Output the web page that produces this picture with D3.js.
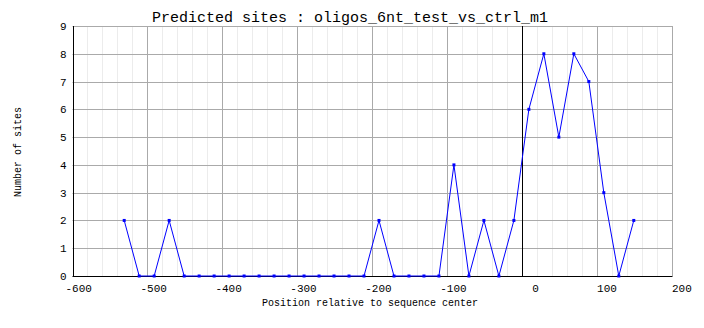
<!DOCTYPE html>
<meta charset="utf-8">
<script src="https://d3js.org/d3.v7.min.js"></script>
<style>
  body { margin: 0; background: #fff; }
  text { font-family: "Liberation Mono", "DejaVu Sans Mono", monospace; fill: #000; }
</style>
<div class="chart"></div>
<script>
  // positions (bp relative to sequence center) and site counts
  const positions = [-531, -511, -491, -471, -451, -431, -411, -391, -371, -351,
                     -331, -311, -291, -271, -251, -231, -211, -191, -171, -151,
                     -131, -111, -91, -71, -51, -31, -11, 9, 29, 49,
                     69, 89, 109, 129, 149];
  const sites = [2, 0, 0, 2, 0, 0, 0, 0, 0, 0,
                 0, 0, 0, 0, 0, 0, 0, 2, 0, 0,
                 0, 0, 4, 0, 2, 0, 2, 6, 8, 5,
                 8, 7, 3, 0, 2];
  const xMajor = [-600, -500, -400, -300, -200, -100, 0, 100, 200];
  const yTicks = [0, 1, 2, 3, 4, 5, 6, 7, 8, 9];

  const width = 704, height = 328;
  const margin = {top: 26, right: 32, bottom: 52, left: 72.5};

  const svg = d3.select('.chart')
                .append('svg')
                .attr('width', width)
                .attr('height', height);

  const x = d3.scaleLinear().domain([-600, 200]).range([margin.left, width - margin.right]);
  const y = d3.scaleLinear().domain([0, 9]).range([height - margin.bottom, margin.top]);

  // minor vertical grid every 20
  const minor = d3.range(-600, 201, 20).filter(d => d % 100 !== 0);
  svg.append('g')
    .selectAll('line')
    .data(minor)
    .enter()
    .append('line')
    .attr('x1', d => Math.round(x(d)) + 0.5)
    .attr('x2', d => Math.round(x(d)) + 0.5)
    .attr('y1', y(9))
    .attr('y2', y(0))
    .attr('stroke', '#ececec');

  // major grid
  svg.append('g')
    .selectAll('line')
    .data(xMajor.filter(d => d !== 0 && d !== -600))
    .enter()
    .append('line')
    .attr('x1', d => Math.round(x(d)) + 0.5)
    .attr('x2', d => Math.round(x(d)) + 0.5)
    .attr('y1', y(9))
    .attr('y2', y(0))
    .attr('stroke', '#aaaaaa');
  svg.append('g')
    .selectAll('line')
    .data(yTicks.filter(d => d > 0))
    .enter()
    .append('line')
    .attr('x1', x(-600))
    .attr('x2', x(200))
    .attr('y1', d => Math.round(y(d)) + 0.5)
    .attr('y2', d => Math.round(y(d)) + 0.5)
    .attr('stroke', '#aaaaaa');

  // axes lines
  svg.append('line')
    .attr('x1', Math.round(x(-600)) + 0.5).attr('x2', Math.round(x(-600)) + 0.5)
    .attr('y1', y(9)).attr('y2', y(0))
    .attr('stroke', '#000');
  svg.append('line')
    .attr('x1', x(-600)).attr('x2', x(200) + 0.5)
    .attr('y1', Math.round(y(0)) + 0.5).attr('y2', Math.round(y(0)) + 0.5)
    .attr('stroke', '#000');
  // sequence center
  svg.append('line')
    .attr('x1', Math.round(x(0)) + 0.5).attr('x2', Math.round(x(0)) + 0.5)
    .attr('y1', y(9)).attr('y2', y(0))
    .attr('stroke', '#000');

  // tick labels
  svg.append('g')
    .selectAll('text')
    .data(xMajor)
    .enter()
    .append('text')
    .attr('x', d => x(d) + (d < 0 ? -7 : d === 0 ? 10 : 0))
    .attr('y', y(0) + 16)
    .attr('font-size', 11)
    .text(d => d < 0 ? '-' + Math.abs(d) : d);
  svg.append('g')
    .selectAll('text')
    .data(yTicks)
    .enter()
    .append('text')
    .attr('x', x(-600) - 6)
    .attr('y', d => y(d) + 4)
    .attr('text-anchor', 'end')
    .attr('font-size', 11)
    .text(d => d);

  // titles
  svg.append('text')
    .attr('x', 350).attr('y', 22)
    .attr('text-anchor', 'middle')
    .attr('font-size', 15)
    .text('Predicted sites : oligos_6nt_test_vs_ctrl_m1');
  svg.append('text')
    .attr('x', 370).attr('y', 306)
    .attr('text-anchor', 'middle')
    .attr('font-size', 10)
    .text('Position relative to sequence center');
  svg.append('text')
    .attr('transform', 'translate(21,152) rotate(-90)')
    .attr('text-anchor', 'middle')
    .attr('font-size', 10)
    .text('Number of sites');

  // data line
  const pts = positions.map((p, i) => [p, sites[i]]);
  svg.append('path')
    .datum(pts)
    .attr('fill', 'none')
    .attr('stroke', '#0000ff')
    .attr('stroke-width', 1)
    .attr('d', d3.line().x(d => x(d[0])).y(d => y(d[1])));
  svg.append('g')
    .selectAll('rect')
    .data(pts)
    .enter()
    .append('rect')
    .attr('x', d => x(d[0]) - 1.5)
    .attr('y', d => y(d[1]) - 1.5)
    .attr('width', 3)
    .attr('height', 3)
    .attr('fill', '#0000ff');
</script>
